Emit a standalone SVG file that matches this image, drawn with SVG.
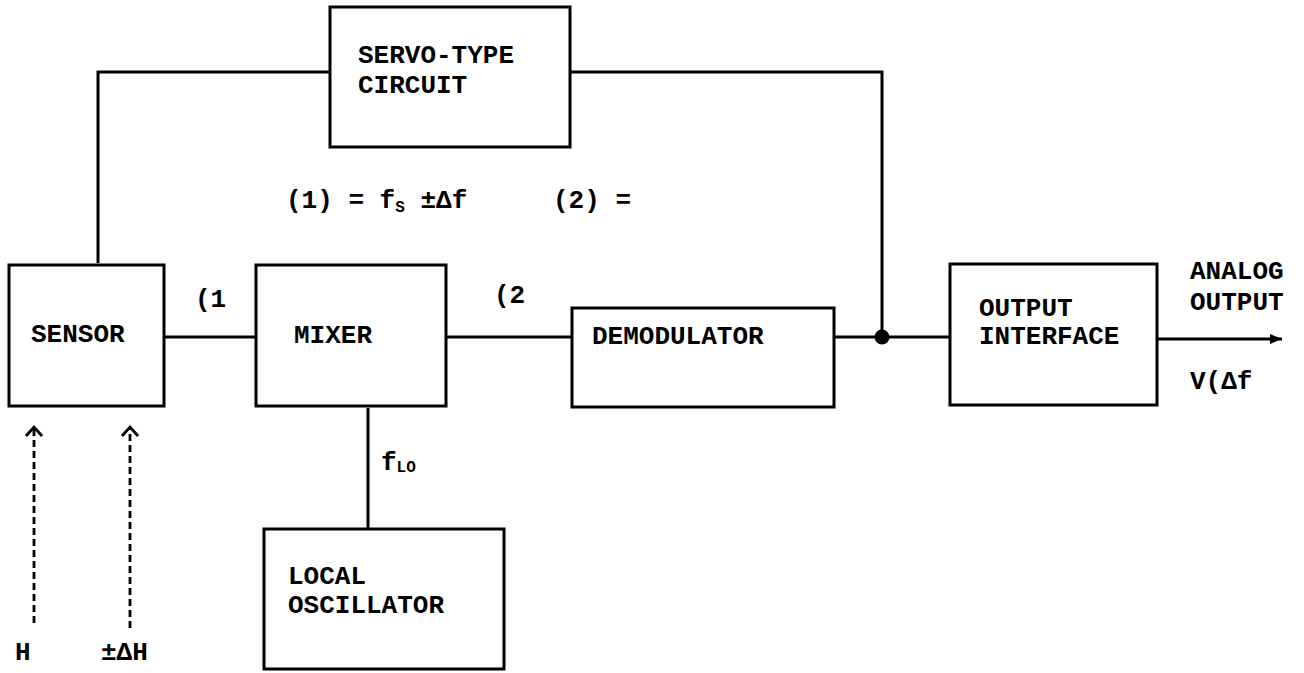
<svg xmlns="http://www.w3.org/2000/svg" width="1304" height="673" viewBox="0 0 1304 673">
<style>
.box{fill:#fff;stroke:#000;stroke-width:3}
.ln{fill:none;stroke:#000;stroke-width:3}
.dash{fill:none;stroke:#000;stroke-width:2.8;stroke-dasharray:7 4}
.chev{fill:none;stroke:#000;stroke-width:2.8}
text{font-family:"Liberation Mono","Courier New",monospace;font-weight:bold;font-size:26px;fill:#000}
.sub{font-size:16px}
</style>
<defs>
<marker id="arr" markerWidth="12" markerHeight="10" refX="12" refY="5" orient="auto" markerUnits="userSpaceOnUse">
<path d="M0,0 L12,5 L0,10 Z" fill="#000"/>
</marker>
</defs>
<rect width="1304" height="673" fill="#fff"/>
<g id="connectors">
<polyline class="ln" points="98,263 98,72 330,72"/>
<polyline class="ln" points="570,72 882,72 882,337"/>
<line class="ln" x1="164" y1="337" x2="256" y2="337"/>
<line class="ln" x1="446" y1="337" x2="572" y2="337"/>
<line class="ln" x1="834" y1="337" x2="950" y2="337"/>
<line class="ln" x1="1157" y1="339" x2="1282" y2="339" marker-end="url(#arr)"/>
<line class="ln" x1="368" y1="408" x2="368" y2="529"/>
<circle cx="882" cy="337" r="7.5" fill="#000"/>
<line class="dash" x1="34" y1="623" x2="34" y2="428"/>
<polyline class="chev" points="26,436 34,427 42,436"/>
<line class="dash" x1="130" y1="628" x2="130" y2="428"/>
<polyline class="chev" points="122,436 130,427 138,436"/>
</g>
<g id="servo">
<rect class="box" x="330" y="7" width="240" height="140"/>
<text x="358" y="63">SERVO-TYPE</text>
<text x="358" y="93">CIRCUIT</text>
</g>
<g id="sensor">
<rect class="box" x="9" y="265" width="155" height="141"/>
<text x="31" y="342">SENSOR</text>
</g>
<g id="mixer">
<rect class="box" x="256" y="265" width="190" height="141"/>
<text x="294" y="343">MIXER</text>
</g>
<g id="demodulator">
<rect class="box" x="572" y="308" width="262" height="99"/>
<text x="592" y="344">DEMODULATOR</text>
</g>
<g id="output-interface">
<rect class="box" x="950" y="264" width="207" height="141"/>
<text x="979" y="316">OUTPUT</text>
<text x="979" y="344">INTERFACE</text>
</g>
<g id="local-oscillator">
<rect class="box" x="264" y="529" width="240" height="140"/>
<text x="288" y="584">LOCAL</text>
<text x="288" y="613">OSCILLATOR</text>
</g>
<g id="labels">
<text x="195" y="307">(1</text>
<text x="494" y="303">(2</text>
<text x="1190" y="279">ANALOG</text>
<text x="1190" y="310">OUTPUT</text>
<text x="1190" y="389">V(Δf</text>
<text x="381" y="470">f<tspan class="sub" dy="2">LO</tspan></text>
<text x="15" y="660">H</text>
<text x="101" y="660">±ΔH</text>
<text x="286" y="208" xml:space="preserve">(1) = f<tspan class="sub" dy="4">S</tspan><tspan dy="-4"> ±Δf</tspan></text>
<text x="553" y="208" xml:space="preserve">(2) =</text>
</g>
</svg>
